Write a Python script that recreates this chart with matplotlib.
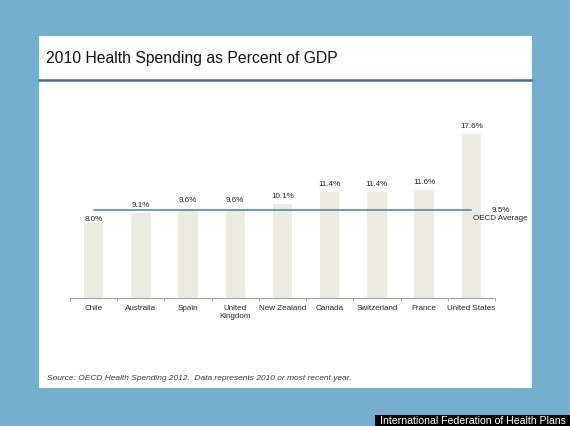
import matplotlib.pyplot as plt
from matplotlib.patches import Rectangle
from matplotlib.lines import Line2D

plt.rcParams['font.family'] = ['Liberation Sans', 'DejaVu Sans']

countries = ["Chile", "Australia", "Spain", "United\nKingdom", "New Zealand",
             "Canada", "Switzerland", "France", "United States"]
spending = [8.0, 9.1, 9.6, 9.6, 10.1, 11.4, 11.4, 11.6, 17.6]
oecd_avg = 9.5

W, H = 570, 426
fig = plt.figure(figsize=(W / 100, H / 100), dpi=100)
fig.patch.set_facecolor("#74afcf")

# white slide
fig.add_artist(Rectangle((39 / W, 1 - 388 / H), (532 - 39) / W, (388 - 36) / H,
                         transform=fig.transFigure, facecolor="white",
                         edgecolor="none", zorder=0))
# title rule
fig.add_artist(Line2D([39 / W, 531 / W], [1 - 80 / H, 1 - 80 / H],
                      transform=fig.transFigure, color="#4d6d86", lw=1.8))
fig.text(46 / W, 1 - 58 / H, "2010 Health Spending as Percent of GDP",
         fontsize=11.3, color="#111111", va="center", ha="left")
fig.text(47 / W, 1 - 378 / H,
         "Source: OECD Health Spending 2012.  Data represents 2010 or most recent year.",
         fontsize=6.0, style="italic", color="#3a3a3a", va="center", ha="left")

# credit box bottom right
fig.add_artist(Rectangle((375 / W, 0), (W - 375) / W, 11 / H,
                         transform=fig.transFigure, facecolor="black",
                         edgecolor="none", zorder=0))
fig.text(1 - 4 / W, 5.5 / H, "International Federation of Health Plans",
         fontsize=7.6, color="white", va="center", ha="right")

ax = fig.add_axes([70 / W, 1 - 298 / H, 425 / W, 177 / H])
ax.set_facecolor("none")
x = list(range(len(countries)))
ax.bar(x, spending, width=0.41, color="#ecebe1", zorder=1)
ax.plot([0, len(countries) - 1], [oecd_avg, oecd_avg], color="#4f8299", lw=1.1, zorder=2)

for i, v in enumerate(spending):
    off = 0 if i == 0 else 3
    ax.annotate(f"{v:.1f}%", (i, v), xytext=(0, off), textcoords="offset points",
                ha="center", va="bottom", fontsize=5.8, color="#222222")

ax.text(8.62, oecd_avg + 0.25, f"{oecd_avg}%\nOECD Average", ha="center", va="top",
        fontsize=5.8, color="#222222", linespacing=1.1, clip_on=False)

ax.set_xlim(-0.5, 8.5)
ax.set_ylim(0, 19)
ax.set_xticks(x)
ax.set_xticklabels(countries, fontsize=5.8, color="#222222", linespacing=1.15)
ax.set_xticks([i - 0.5 for i in range(len(countries) + 1)], minor=True)
ax.tick_params(axis="x", which="major", length=0, pad=5)
ax.tick_params(axis="x", which="minor", length=2.5, color="#a0a0a0", width=0.7)
ax.set_yticks([])
for s in ["top", "left", "right"]:
    ax.spines[s].set_visible(False)
ax.spines["bottom"].set_color("#a0a0a0")
ax.spines["bottom"].set_linewidth(0.8)

fig.savefig("out.png", dpi=100, facecolor=fig.get_facecolor())
